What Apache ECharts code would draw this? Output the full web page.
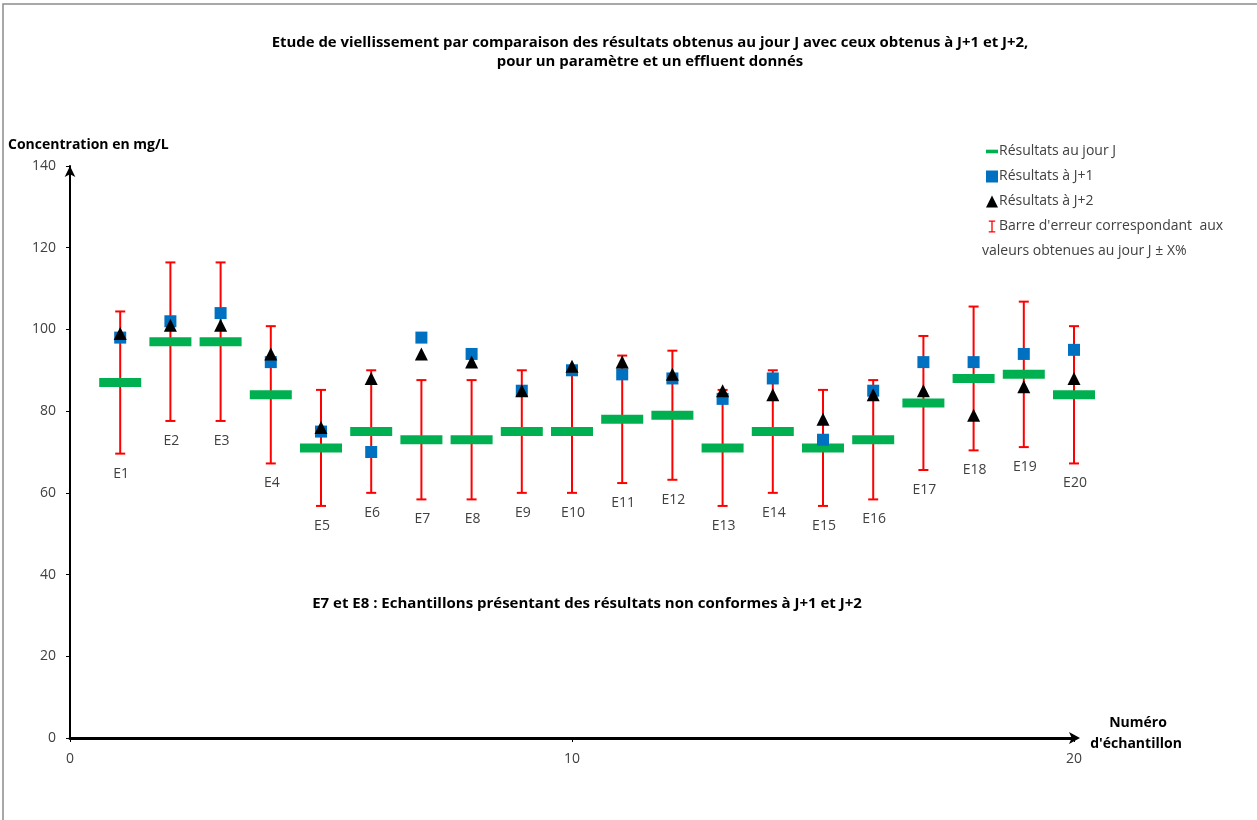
<!DOCTYPE html>
<html>
<head>
<meta charset="utf-8">
<script src="https://cdn.jsdelivr.net/npm/echarts@6/dist/echarts.min.js"></script>
<style>html,body{margin:0;padding:0;background:#fff;}#c{width:1257px;height:820px;}</style>
</head>
<body>
<div id="c"></div>
<script>
// ---- data ----
const samples = ['E1','E2','E3','E4','E5','E6','E7','E8','E9','E10','E11','E12','E13','E14','E15','E16','E17','E18','E19','E20'];
const sampleX = [1,2,3,4,5,6,7,8,9,10,11,12,13,14,15,16,17,18,19,20];
const dayJ  = [87,97,97,84,71,75,73,73,75,75,78,79,71,75,71,73,82,88,89,84];
const dayJ1 = [98,102,104,92,75,70,98,94,85,90,89,88,83,88,73,85,92,92,94,95];
const dayJ2 = [99,101,101,94,76,88,94,92,85,91,92,89,85,84,78,84,85,79,86,88];
const errorPct = 20; // ± X %
const yTicks = [0,20,40,60,80,100,120,140];
const xTicks = [0,10,20];

const FONT = '"Open Sans", Lato, sans-serif';
const errData = sampleX.map((x,i)=>[x, dayJ[i]*(1-errorPct/100), dayJ[i]*(1+errorPct/100), samples[i]]);

const chart = echarts.init(document.getElementById('c'));
chart.setOption({
  backgroundColor:'#fff',
  animation:false,
  legend:{
    orient:'vertical', left:981, top:134,
    itemWidth:12, itemHeight:12, itemGap:0,
    symbolKeepAspect:true,
    textStyle:{fontFamily:FONT, fontSize:14, color:'#404040', lineHeight:25, padding:[0,0,0,-4]},
    data:[
      {name:'Résultats au jour J', icon:'path://M0,0h10v3h-10z'},
      {name:'Résultats à J+1', icon:'rect'},
      {name:'Résultats à J+2', icon:'triangle'},
      {name:"Barre d'erreur correspondant  aux", icon:'path://M0,0h7v1.4h-2.8v10.2h2.8v1.4h-7v-1.4h2.8v-10.2h-2.8z'}
    ]
  },
  graphic:[
    {type:'rect', shape:{x:3,y:4,width:1300,height:900}, style:{fill:'none', stroke:'#8c8c8c', lineWidth:1.5}, silent:true, z:-10},
    {type:'text', x:650, y:43, style:{text:'Etude de viellissement par comparaison des résultats obtenus au jour J avec ceux obtenus à J+1 et J+2,', font:'bold 14.9px '+FONT, fill:'#000', align:'center', verticalAlign:'middle'}},
    {type:'text', x:650, y:62, style:{text:'pour un paramètre et un effluent donnés', font:'bold 14.9px '+FONT, fill:'#000', align:'center', verticalAlign:'middle'}},
    {type:'text', x:982, y:251, style:{text:'valeurs obtenues au jour J ± X%', font:'14px '+FONT, fill:'#404040', verticalAlign:'middle'}},
    {type:'text', x:587, y:604, style:{text:'E7 et E8 : Echantillons présentant des résultats non conformes à J+1 et J+2', font:'bold 15px '+FONT, fill:'#000', align:'center', verticalAlign:'middle'}},
    {type:'text', x:8, y:145, style:{text:'Concentration en mg/L', font:'bold 14px '+FONT, fill:'#000', verticalAlign:'middle'}},
    {type:'text', x:1138, y:723, style:{text:'Numéro', font:'bold 14px '+FONT, fill:'#000', align:'center', verticalAlign:'middle'}},
    {type:'text', x:1136, y:744, style:{text:"d'échantillon", font:'bold 14px '+FONT, fill:'#000', align:'center', verticalAlign:'middle'}}
  ],
  grid:{left:70, right:183, top:166, bottom:82},
  xAxis:{
    type:'value', min:0, max:20, interval:10,
    axisLine:{show:true, lineStyle:{color:'#000', width:3}, symbol:['none','arrow'], symbolSize:[9,11], symbolOffset:[0,6]},
    axisTick:{show:true, length:4, lineStyle:{color:'#000', width:1}},
    axisLabel:{fontFamily:FONT, fontSize:14, color:'#404040', margin:14, customValues:xTicks},
    splitLine:{show:false}
  },
  yAxis:{
    type:'value', min:0, max:140, interval:20,
    axisLine:{show:true, lineStyle:{color:'#000', width:2}, symbol:['none','arrow'], symbolSize:[8,11]},
    axisTick:{show:true, length:4, lineStyle:{color:'#000', width:1}},
    axisLabel:{fontFamily:FONT, fontSize:14, color:'#404040', margin:14, customValues:yTicks},
    splitLine:{show:false}
  },
  series:[
    {
      name:"Barre d'erreur correspondant  aux",
      type:'custom', z:1,
      itemStyle:{color:'#ff0000'},
      data:errData,
      renderItem:function(params, api){
        const x = api.value(0);
        const lo = api.coord([x, api.value(1)]);
        const hi = api.coord([x, api.value(2)]);
        const cap = 5;
        const st = {stroke:'#ff0000', lineWidth:2};
        return {type:'group', children:[
          {type:'line', shape:{x1:lo[0],y1:lo[1],x2:hi[0],y2:hi[1]}, style:st},
          {type:'line', shape:{x1:lo[0]-cap,y1:lo[1],x2:lo[0]+cap,y2:lo[1]}, style:st},
          {type:'line', shape:{x1:hi[0]-cap,y1:hi[1],x2:hi[0]+cap,y2:hi[1]}, style:st},
          {type:'text', x:lo[0]+1, y:lo[1]+20, style:{text:api.value(3), font:'14px '+FONT, fill:'#404040', align:'center', verticalAlign:'middle'}}
        ]};
      }
    },
    {
      name:'Résultats au jour J', type:'scatter', z:2,
      symbol:'rect', symbolSize:[42,9],
      itemStyle:{color:'#00b050', opacity:1},
      data:sampleX.map((x,i)=>[x, dayJ[i]])
    },
    {
      name:'Résultats à J+1', type:'scatter', z:3,
      symbol:'rect', symbolSize:12,
      itemStyle:{color:'#0070c0', opacity:1},
      data:sampleX.map((x,i)=>[x, dayJ1[i]])
    },
    {
      name:'Résultats à J+2', type:'scatter', z:4,
      symbol:'triangle', symbolSize:13,
      itemStyle:{color:'#000', opacity:1},
      data:sampleX.map((x,i)=>[x, dayJ2[i]])
    }
  ]
});
</script>
</body>
</html>
